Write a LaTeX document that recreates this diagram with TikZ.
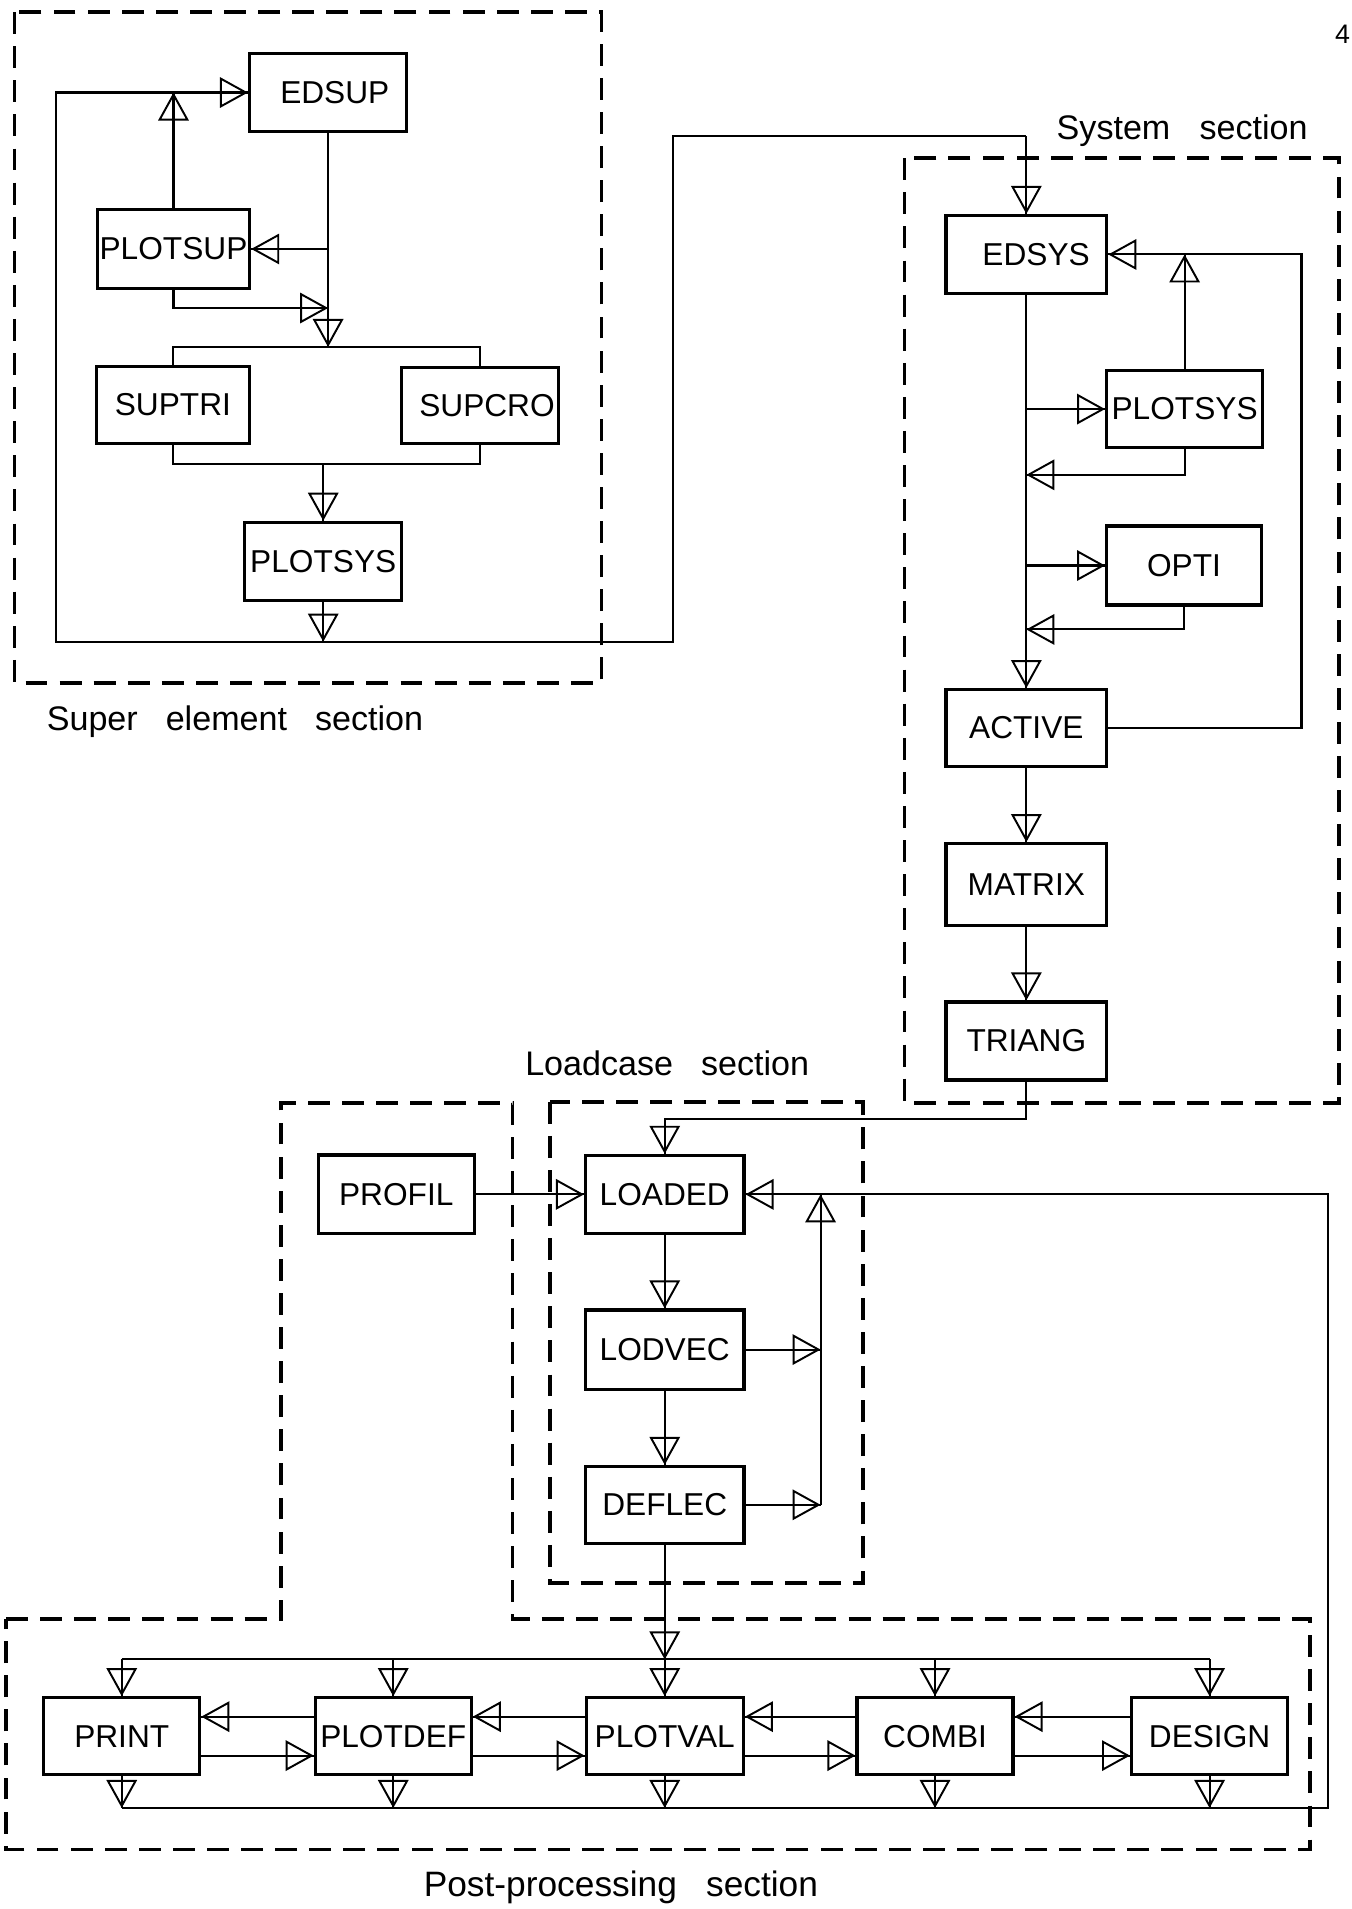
\documentclass[tikz,border=0pt]{standalone}
\usepackage{fontspec}
\setmainfont{Liberation Sans}
\usetikzlibrary{arrows.meta,decorations.markings}
\begin{document}
\begin{tikzpicture}[x=1pt,y=-1pt,
  box/.style={draw, line width=2.7pt, inner sep=0pt, minimum width=129pt, minimum height=64pt, font=\fontsize{26}{30}\selectfont},
  conn/.style={line width=1.7pt},
  arr/.style={postaction={decorate, decoration={markings, mark=at position 1 with {\arrow[line width=1.6pt]{Triangle[open, length=23pt, width=25pt]}}}}},
  sect/.style={line width=3pt, dash pattern=on 18pt off 10pt},
  title/.style={font=\fontsize{28}{32}\selectfont},
]
\useasboundingbox (0,0) rectangle (1110,1568);

% ---------- section frames ----------
\draw[sect] (12,10) rectangle (494,561);
\draw[sect] (743,130) rectangle (1100,906);
\draw[sect] (452,905) rectangle (709,1300);
\draw[sect] (5,1330) -- (231,1330) -- (231,906) -- (421,906) -- (421,1330) -- (1076,1330) -- (1076,1519) -- (5,1519) -- cycle;

\node[title] (tsuper) at (193,593) {Super\hspace{23pt}element\hspace{23pt}section};
\node[title] (tsystem) at (971,107) {System\hspace{24pt}section};
\node[title] (tload) at (548,873) {Loadcase\hspace{23pt}section};
\node[font=\fontsize{29}{32}\selectfont] (tpost) at (510,1550) {Post-processing\hspace{24pt}section};
\node[font=\fontsize{22}{24}\selectfont, anchor=west] (pg) at (1093,28) {4};

% ---------- super element section ----------
\node[box, minimum width=129pt] (edsup) at (269.5,76) {\hspace{11pt}EDSUP};
\node[box, minimum width=125pt, minimum height=65pt] (plotsup) at (142.5,204.5) {PLOTSUP};
\node[box, minimum width=126pt, minimum height=63pt] (suptri) at (142,332.5) {SUPTRI\hspace{21pt}};
\node[box, minimum width=129pt, minimum height=62pt] (supcro) at (394.5,333) {\hspace{11pt}SUPCRO};
\node[box] (plotsysA) at (265.5,461) {PLOTSYS};

\coordinate (bus) at (269.5,285);
\coordinate (col) at (265.5,381);
\coordinate (pj) at (269.5,253);
\coordinate (Ltl) at (46,76);
\coordinate (Sj) at (265.5,527);
\coordinate (Xr) at (553,527);
\coordinate (Xe) at (843,112);

\draw[conn,arr] (edsup.south) -- (bus);
\draw[conn,arr] (plotsup.east -| bus) -- (plotsup.east);
\draw[conn,arr] (plotsup.south) |- (pj);
\draw[conn,arr] (plotsup.north) -- (plotsup.north |- Ltl);
\draw[conn] (suptri.north) |- (bus) -| (supcro.north);
\draw[conn] (suptri.south) |- (col) -| (supcro.south);
\draw[conn,arr] (col) -- (plotsysA.north);
\draw[conn,arr] (plotsysA.south) -- (Sj);
\draw[conn,arr] (Sj) -| (Ltl) -- (edsup.west);
\draw[conn] (Sj) -- (Xr) |- (Xe);

% ---------- system section ----------
\node[box, minimum width=132pt] (edsys) at (843,209) {\hspace{16pt}EDSYS};
\node[box, minimum width=128pt, minimum height=63pt] (plotsysB) at (973,336) {PLOTSYS};
\node[box, minimum width=127pt, minimum height=65pt] (opti) at (972.5,464.5) {OPTI};
\node[box, minimum width=132pt, minimum height=63pt] (active) at (843,598) {ACTIVE};
\node[box, minimum width=132pt, minimum height=67pt] (matrix) at (843,726.5) {MATRIX};
\node[box, minimum width=132pt] (triang) at (843,855) {TRIANG};

\coordinate (r1) at (843,390);
\coordinate (r2) at (843,517);
\coordinate (ej) at (1069,209);

\draw[conn,arr] (Xe) -- (edsys.north);
\draw[conn,arr] (edsys.south) -- (active.north);
\draw[conn,arr] (edsys.south |- plotsysB.west) -- (plotsysB.west);
\draw[conn,arr] (plotsysB.south) |- (r1);
\draw[conn,arr] (edsys.south |- opti.west) -- (opti.west);
\draw[conn,arr] (opti.south) |- (r2);
\draw[conn,arr] (plotsysB.north) -- (plotsysB.north |- edsys.east);
\draw[conn,arr] (active.east) -| (ej) -- (edsys.east);
\draw[conn,arr] (active.south) -- (matrix.north);
\draw[conn,arr] (matrix.south) -- (triang.north);

% ---------- loadcase section ----------
\node[box, minimum width=128pt, minimum height=64.5pt] (profil) at (325.5,981) {PROFIL};
\node[box, minimum width=130pt] (loaded) at (546,981) {LOADED};
\node[box, minimum width=130pt, minimum height=65pt] (lodvec) at (546,1108.5) {LODVEC};
\node[box, minimum width=130pt, minimum height=63pt] (deflec) at (546,1236) {DEFLEC};

\coordinate (lv) at (674,981);
\draw[conn,arr] (triang.south) -- ++(0,31) -| (loaded.north);
\draw[conn,arr] (profil.east) -- (loaded.west);
\draw[conn,arr] (loaded.south) -- (lodvec.north);
\draw[conn,arr] (lodvec.south) -- (deflec.north);
\draw[conn,arr] (lodvec.east) -- (lodvec.east -| lv);
\draw[conn,arr] (deflec.east) -- (deflec.east -| lv);
\draw[conn,arr] (deflec.east -| lv) -- (lv);

% ---------- post-processing section ----------
\node[box, minimum width=128pt, minimum height=63pt] (print) at (100,1426) {PRINT};
\node[box, minimum width=128pt, minimum height=63pt] (plotdef) at (323,1426) {PLOTDEF};
\node[box, minimum width=129pt, minimum height=63pt] (plotval) at (546,1426) {PLOTVAL};
\node[box, minimum width=128pt, minimum height=63pt] (combi) at (768,1426) {COMBI\hspace{10pt}};
\node[box, minimum width=128pt, minimum height=63pt] (design) at (993.5,1426) {DESIGN\hspace{20pt}};

\coordinate (tb) at (546,1363);
\coordinate (bb) at (546,1485);
\coordinate (rr) at (1091,981);

\draw[conn,arr] (deflec.south) -- (tb);
\draw[conn] (print.north |- tb) -- (design.north |- tb);
\foreach \n in {print,plotdef,plotval,combi,design}{
  \draw[conn,arr] (\n.north |- tb) -- (\n.north);
  \draw[conn,arr] (\n.south) -- (\n.south |- bb);
}
\draw[conn,arr] (print.south |- bb) -| (rr) -- (loaded.east);

\draw[conn,arr] ([yshift=16pt]plotdef.west) -- ([yshift=16pt]print.east);
\draw[conn,arr] ([yshift=-16pt]print.east) -- ([yshift=-16pt]plotdef.west);
\draw[conn,arr] ([yshift=16pt]plotval.west) -- ([yshift=16pt]plotdef.east);
\draw[conn,arr] ([yshift=-16pt]plotdef.east) -- ([yshift=-16pt]plotval.west);
\draw[conn,arr] ([yshift=16pt]combi.west) -- ([yshift=16pt]plotval.east);
\draw[conn,arr] ([yshift=-16pt]plotval.east) -- ([yshift=-16pt]combi.west);
\draw[conn,arr] ([yshift=16pt]design.west) -- ([yshift=16pt]combi.east);
\draw[conn,arr] ([yshift=-16pt]combi.east) -- ([yshift=-16pt]design.west);
\end{tikzpicture}
\end{document}
